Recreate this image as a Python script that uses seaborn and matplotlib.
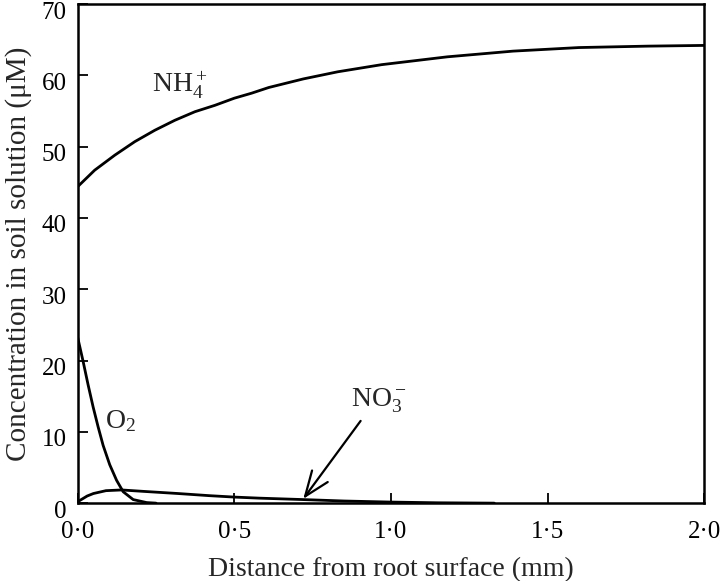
import seaborn as sns
import matplotlib.pyplot as plt
from matplotlib.transforms import ScaledTranslation

# Distance from root surface (mm) and concentrations (uM)
nh4_x = [0.0, 0.054, 0.118, 0.182, 0.246, 0.31, 0.374, 0.438, 0.50, 0.555,
         0.61, 0.72, 0.83, 0.97, 1.18, 1.39, 1.60, 1.82, 2.0]
nh4_y = [44.4, 46.7, 48.8, 50.7, 52.3, 53.7, 54.9, 55.8, 56.8, 57.5,
         58.3, 59.5, 60.5, 61.5, 62.6, 63.4, 63.9, 64.1, 64.2]

o2_x = [0.0, 0.017, 0.033, 0.049, 0.065, 0.081, 0.102, 0.124, 0.145,
        0.177, 0.22, 0.25]
o2_y = [23.2, 19.9, 16.6, 13.5, 10.7, 8.1, 5.4, 3.2, 1.6, 0.5, 0.08, 0.0]

no3_x = [0.0, 0.015, 0.03, 0.05, 0.09, 0.14, 0.21, 0.32, 0.42, 0.50, 0.58,
         0.72, 0.85, 1.0, 1.15, 1.33]
no3_y = [0.2, 0.6, 1.0, 1.35, 1.75, 1.85, 1.65, 1.35, 1.05, 0.85, 0.7,
         0.5, 0.3, 0.15, 0.05, 0.0]

xticks = [0.0, 0.5, 1.0, 1.5, 2.0]
xticklabels = ['0·0', '0·5', '1·0', '1·5', '2·0']
yticks = [0, 10, 20, 30, 40, 50, 60, 70]

sns.set_style('ticks')
plt.rcParams['font.family'] = ['Liberation Serif', 'DejaVu Serif']
plt.rcParams['mathtext.fontset'] = 'custom'
plt.rcParams['mathtext.rm'] = 'Liberation Serif'
plt.rcParams['mathtext.it'] = 'Liberation Serif:italic'

fig = plt.figure(figsize=(7.2, 5.81), dpi=100)
ax = fig.add_axes([0.108, 0.134, 0.870, 0.859])

for xs, ys in [(nh4_x, nh4_y), (o2_x, o2_y), (no3_x, no3_y)]:
    sns.lineplot(x=xs, y=ys, ax=ax, color='black', linewidth=2.0,
                 sort=False, estimator=None)

ax.set_xlim(0, 2.0)
ax.set_ylim(0, 70)
ax.set_xticks(xticks)
ax.set_xticklabels(xticklabels)
ax.set_yticks(yticks)
ax.tick_params(direction='in', length=7, width=1.3, labelsize=18,
               colors='black')
ax.tick_params(axis='x', pad=13)
ax.tick_params(axis='y', pad=8)
for s in ax.spines.values():
    s.set_linewidth(1.8)
    s.set_color('black')

# y tick labels sit a little below their ticks in the original
shift = ScaledTranslation(0, -6 / 100, fig.dpi_scale_trans)
for lab in ax.get_yticklabels():
    lab.set_transform(lab.get_transform() + shift)

ax.set_xlabel('Distance from root surface (mm)', fontsize=20)
ax.xaxis.set_label_coords(0.5, -0.108)
ax.set_ylabel('Concentration in soil solution (μM)', fontsize=21)
ax.yaxis.set_label_coords(-0.0735, 0.5)

# curve labels
ax.text(0.236, 57.6, r'NH$_4^+$', fontsize=20)
ax.text(0.087, 10.5, r'O$_2$', fontsize=20)
ax.annotate(r'NO$_3^-$', xy=(0.72, 0.6), xytext=(0.872, 13.5), fontsize=20,
            arrowprops=dict(arrowstyle='->,head_length=0.9,head_width=0.35',
                            color='black', lw=1.6, shrinkA=2, shrinkB=0,
                            relpos=(0.25, 0.0)))

fig.savefig('out.png', dpi=100)
